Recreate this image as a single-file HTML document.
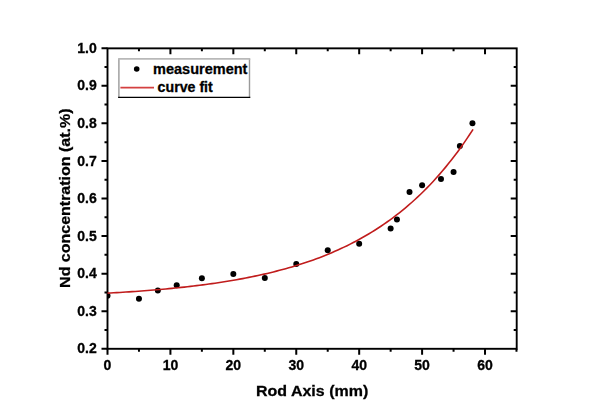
<!DOCTYPE html><html><head><meta charset="utf-8"><style>html,body{margin:0;padding:0;background:#fff;width:600px;height:419px;overflow:hidden}svg{position:absolute;left:0;top:0;filter:blur(0.35px)}text{font-family:"Liberation Sans",sans-serif;font-weight:bold;stroke:#000;stroke-width:0.3px}</style></head><body>
<svg width="600" height="419" viewBox="0 0 600 419">
<defs><clipPath id="c"><rect x="107.5" y="48.35" width="409.20000000000005" height="300.45"/></clipPath></defs>
<g clip-path="url(#c)" fill="#000">
<circle cx="107.50" cy="295.82" r="3"/>
<circle cx="138.96" cy="298.83" r="3"/>
<circle cx="157.84" cy="290.41" r="3"/>
<circle cx="176.71" cy="285.30" r="3"/>
<circle cx="201.88" cy="278.31" r="3"/>
<circle cx="233.34" cy="274.03" r="3"/>
<circle cx="264.80" cy="278.01" r="3"/>
<circle cx="296.26" cy="263.99" r="3"/>
<circle cx="327.72" cy="250.35" r="3"/>
<circle cx="359.18" cy="243.70" r="3"/>
<circle cx="390.64" cy="228.41" r="3"/>
<circle cx="396.93" cy="219.62" r="3"/>
<circle cx="409.52" cy="192.11" r="3"/>
<circle cx="422.10" cy="185.20" r="3"/>
<circle cx="440.98" cy="179.11" r="3"/>
<circle cx="453.56" cy="172.08" r="3"/>
<circle cx="459.85" cy="145.90" r="3"/>
<circle cx="472.44" cy="123.35" r="3"/>
</g>
<path d="M107.50,348.8 V354.8 M138.96,348.8 V351.8 M138.96,48.35 V51.35 M170.42,348.8 V354.8 M170.42,48.35 V54.35 M201.88,348.8 V351.8 M201.88,48.35 V51.35 M233.34,348.8 V354.8 M233.34,48.35 V54.35 M264.80,348.8 V351.8 M264.80,48.35 V51.35 M296.26,348.8 V354.8 M296.26,48.35 V54.35 M327.72,348.8 V351.8 M327.72,48.35 V51.35 M359.18,348.8 V354.8 M359.18,48.35 V54.35 M390.64,348.8 V351.8 M390.64,48.35 V51.35 M422.10,348.8 V354.8 M422.10,48.35 V54.35 M453.56,348.8 V351.8 M453.56,48.35 V51.35 M485.02,348.8 V354.8 M485.02,48.35 V54.35 M516.48,348.8 V351.8 M107.5,348.80 H101.5 M107.5,330.01 H104.5 M516.7,330.01 H513.7 M107.5,311.23 H101.5 M516.7,311.23 H510.70000000000005 M107.5,292.44 H104.5 M516.7,292.44 H513.7 M107.5,273.65 H101.5 M516.7,273.65 H510.70000000000005 M107.5,254.86 H104.5 M516.7,254.86 H513.7 M107.5,236.08 H101.5 M516.7,236.08 H510.70000000000005 M107.5,217.29 H104.5 M516.7,217.29 H513.7 M107.5,198.50 H101.5 M516.7,198.50 H510.70000000000005 M107.5,179.71 H104.5 M516.7,179.71 H513.7 M107.5,160.93 H101.5 M516.7,160.93 H510.70000000000005 M107.5,142.14 H104.5 M516.7,142.14 H513.7 M107.5,123.35 H101.5 M516.7,123.35 H510.70000000000005 M107.5,104.56 H104.5 M516.7,104.56 H513.7 M107.5,85.77 H101.5 M516.7,85.77 H510.70000000000005 M107.5,66.99 H104.5 M516.7,66.99 H513.7 M107.5,48.20 H101.5" stroke="#000" stroke-width="2" fill="none"/>
<rect x="107.5" y="48.35" width="409.20000000000005" height="300.45" fill="none" stroke="#000" stroke-width="1.9"/>
<path d="M107.50,293.14 L110.57,292.97 L113.64,292.79 L116.72,292.61 L119.79,292.43 L122.86,292.24 L125.93,292.05 L129.00,291.85 L132.08,291.64 L135.15,291.43 L138.22,291.21 L141.29,290.99 L144.36,290.75 L147.44,290.52 L150.51,290.27 L153.58,290.02 L156.65,289.76 L159.72,289.50 L162.80,289.22 L165.87,288.94 L168.94,288.65 L172.01,288.36 L175.08,288.05 L178.16,287.74 L181.23,287.41 L184.30,287.08 L187.37,286.74 L190.44,286.38 L193.52,286.02 L196.59,285.65 L199.66,285.27 L202.73,284.87 L205.80,284.47 L208.88,284.05 L211.95,283.62 L215.02,283.18 L218.09,282.72 L221.16,282.26 L224.24,281.78 L227.31,281.28 L230.38,280.77 L233.45,280.25 L236.52,279.71 L239.59,279.16 L242.67,278.59 L245.74,278.00 L248.81,277.40 L251.88,276.78 L254.95,276.15 L258.03,275.49 L261.10,274.82 L264.17,274.12 L267.24,273.41 L270.31,272.68 L273.39,271.92 L276.46,271.15 L279.53,270.35 L282.60,269.53 L285.67,268.68 L288.75,267.81 L291.82,266.92 L294.89,266.00 L297.96,265.05 L301.03,264.08 L304.11,263.08 L307.18,262.05 L310.25,260.99 L313.32,259.90 L316.39,258.78 L319.47,257.63 L322.54,256.45 L325.61,255.23 L328.68,253.97 L331.75,252.68 L334.83,251.36 L337.90,249.99 L340.97,248.59 L344.04,247.15 L347.11,245.66 L350.19,244.13 L353.26,242.56 L356.33,240.95 L359.40,239.28 L362.47,237.57 L365.55,235.81 L368.62,234.01 L371.69,232.14 L374.76,230.23 L377.83,228.26 L380.91,226.24 L383.98,224.15 L387.05,222.01 L390.12,219.81 L393.19,217.54 L396.27,215.21 L399.34,212.81 L402.41,210.34 L405.48,207.80 L408.55,205.19 L411.63,202.51 L414.70,199.74 L417.77,196.90 L420.84,193.98 L423.91,190.97 L426.99,187.88 L430.06,184.70 L433.13,181.43 L436.20,178.06 L439.27,174.60 L442.35,171.04 L445.42,167.38 L448.49,163.61 L451.56,159.74 L454.63,155.75 L457.71,151.65 L460.78,147.44 L463.85,143.10 L466.92,138.64 L469.99,134.05 L473.07,129.33" fill="none" stroke="#c01c1c" stroke-width="1.6"/>
<text x="107.50" y="370" font-size="14" text-anchor="middle">0</text>
<text x="170.42" y="370" font-size="14" text-anchor="middle">10</text>
<text x="233.34" y="370" font-size="14" text-anchor="middle">20</text>
<text x="296.26" y="370" font-size="14" text-anchor="middle">30</text>
<text x="359.18" y="370" font-size="14" text-anchor="middle">40</text>
<text x="422.10" y="370" font-size="14" text-anchor="middle">50</text>
<text x="485.02" y="370" font-size="14" text-anchor="middle">60</text>
<text x="96.8" y="353.40" font-size="14" text-anchor="end">0.2</text>
<text x="96.8" y="315.83" font-size="14" text-anchor="end">0.3</text>
<text x="96.8" y="278.25" font-size="14" text-anchor="end">0.4</text>
<text x="96.8" y="240.68" font-size="14" text-anchor="end">0.5</text>
<text x="96.8" y="203.10" font-size="14" text-anchor="end">0.6</text>
<text x="96.8" y="165.53" font-size="14" text-anchor="end">0.7</text>
<text x="96.8" y="127.95" font-size="14" text-anchor="end">0.8</text>
<text x="96.8" y="90.37" font-size="14" text-anchor="end">0.9</text>
<text x="96.8" y="52.80" font-size="14" text-anchor="end">1.0</text>
<text transform="translate(312.1,396.2) scale(1,0.9)" x="0" y="0" font-size="16" text-anchor="middle">Rod Axis (mm)</text>
<text transform="translate(70.1,198.2) rotate(-90) scale(1,0.91)" x="0" y="0" font-size="16" text-anchor="middle">Nd concentration (at.%)</text>
<rect x="118.9" y="58.9" width="130.6" height="38.4" fill="#fff" stroke="none"/>
<path d="M118.9,97.3 V58.9 M249.5,58.9 V97.3" stroke="#9a9a9a" stroke-width="1.4"/>
<path d="M118.1,58.9 H250.3" stroke="#b8b8b8" stroke-width="1.6"/>
<path d="M118.1,97.3 H250.3" stroke="#000" stroke-width="1.2"/>
<circle cx="136.7" cy="69" r="2.8" fill="#000"/>
<path d="M120.4,87.7 H154" stroke="#d44040" stroke-width="1.8"/>
<text x="153.1" y="73.9" font-size="14.5">measurement</text>
<text x="157.6" y="92" font-size="14.2">curve fit</text>
</svg></body></html>
